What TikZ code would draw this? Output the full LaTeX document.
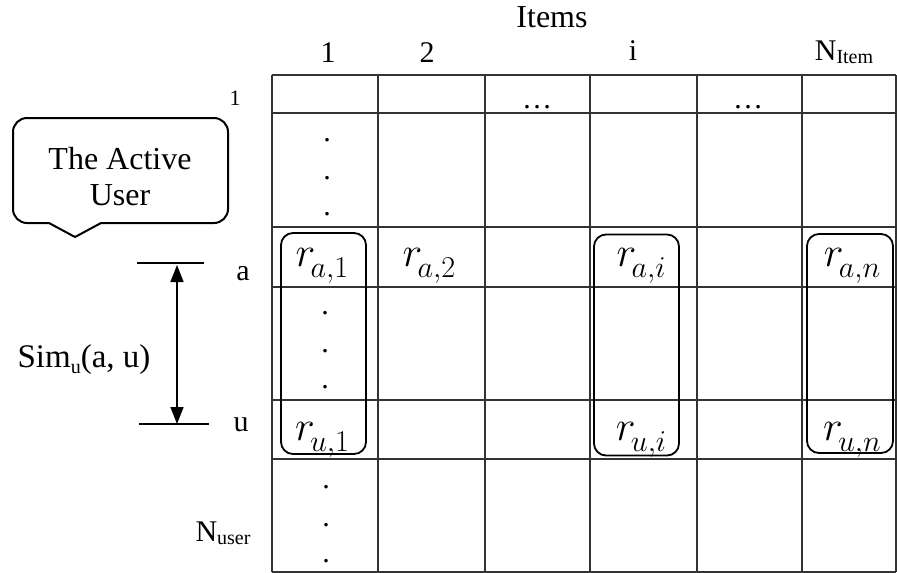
\RequirePackage{fix-cm}
\documentclass[tikz,border=0pt]{standalone}
\usepackage{fontspec}
\setmainfont{Liberation Serif}
\usetikzlibrary{arrows.meta}
\renewcommand\defaultscriptratio{.72}
\newcommand\lowsub[2][-0.12em]{\raisebox{#1}{\fontsize{20}{22}\selectfont #2}}
\newcommand\rating[2]{$r\mkern-2mu\raisebox{-11pt}{$\scriptstyle #1,#2$}$}
\begin{document}
\begin{tikzpicture}[x=1pt,y=-1pt,
  gridline/.style={line width=1.3pt, draw=black!80},
  rbox/.style={draw, line width=1.8pt, rounded corners=12pt, inner sep=0pt},
  lbl/.style={font=\fontsize{30}{36}\selectfont, inner sep=0pt, anchor=base},
  rv/.style={font=\fontsize{42}{48}\selectfont, inner sep=0pt, anchor=base},
  vdot/.style={font=\fontsize{30}{36}\selectfont, inner sep=0pt},
  tick/.style={line width=1.2pt},
  simarrow/.style={line width=1.6pt, {Triangle[length=17pt,width=13pt]}-{Triangle[length=17pt,width=13pt]}},
  callout/.style={line width=2pt, line join=round}]
\useasboundingbox (0,0) rectangle (897,573);
% grid
\foreach \x in {272,378,485,590,697,802,896} \draw[gridline] (\x,75) -- (\x,572);
\foreach \y in {75,113,227,287,400,459,572} \draw[gridline] (272,\y) -- (896,\y);
% header labels
\node[lbl, font=\fontsize{32}{36}\selectfont] (items) at (552,27) {Items};
\node[lbl] (c1) at (328,62) {1};
\node[lbl] (c2) at (427,62) {2};
\node[lbl] (ci) at (633,60) {i};
\node[lbl] (cn) at (844,60) {N\lowsub{Item}};
% row labels
\node[lbl, font=\fontsize{22}{24}\selectfont] (r1) at (235,105) {1};
\node[lbl] (ra) at (243,280) {a};
\node[lbl] (ru) at (241,431) {u};
\node[lbl] (rn) at (223,541) {N\lowsub{user}};
% ellipses in first row
\node[lbl] (e1) at (537,108) {…};
\node[lbl] (e2) at (748,108) {…};
% vertical dots
\node[vdot] (d1) at (327,140) {.};
\node[vdot] (d2) at (327,178) {.};
\node[vdot] (d3) at (327,214) {.};
\node[vdot] (d4) at (325,313) {.};
\node[vdot] (d5) at (325,351) {.};
\node[vdot] (d6) at (325,387) {.};
\node[vdot] (d7) at (326,487) {.};
\node[vdot] (d8) at (326,525) {.};
\node[vdot] (d9) at (326,561) {.};
% ratings
\node[rv] (ra1) at (322,266) {\rating{a}{1}};
\node[rv] (ra2) at (429,266) {\rating{a}{2}};
\node[rv] (rai) at (641,266) {\rating{a}{i}};
\node[rv] (ran) at (852,266) {\rating{a}{n}};
\node[rv] (ru1) at (322,440) {\rating{u}{1}};
\node[rv] (rui) at (641,440) {\rating{u}{i}};
\node[rv] (run) at (852,440) {\rating{u}{n}};
% rounded column boxes
\node[rbox, minimum width=85pt, minimum height=221pt] (box1) at (323.5,343.5) {};
\node[rbox, minimum width=85pt, minimum height=221pt] (boxi) at (636.5,345) {};
\node[rbox, minimum width=86pt, minimum height=219pt] (boxn) at (850,343.5) {};
% similarity arrow
\draw[tick] (137,263) -- (204,263);
\draw[tick] (139,424) -- (209,424);
\coordinate (simtop) at (177,265);
\coordinate (simbot) at (177,424);
\draw[simarrow] (simtop) -- (simbot);
\node[lbl, font=\fontsize{33}{36}\selectfont] (sim) at (84,367) {Sim\lowsub[-6pt]{u}(a, u)};
% callout
\draw[callout] (49,223) -- (75,237) -- (101,223) [rounded corners=14pt] -- (228,223) -- (228,118) -- (13,118) -- (13,223) -- (49,223);
\node[lbl, align=center, anchor=center, font=\fontsize{32}{36}\selectfont] (active) at (120,177) {The Active\\[0pt]User};
\end{tikzpicture}
\end{document}
